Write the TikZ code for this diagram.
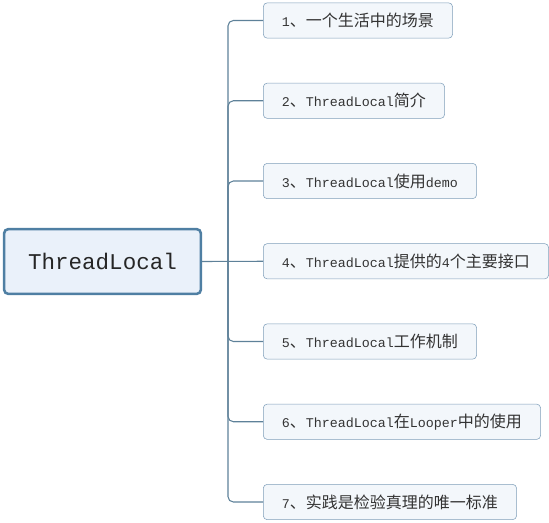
\documentclass[tikz,border=0pt]{standalone}
\usepackage{fontspec}
\setmainfont{Liberation Mono}
\newfontfamily\zhfont{Noto Sans CJK SC}
\newcommand\cn[1]{{\fontsize{12}{14}\zhfont #1}}
\usetikzlibrary{positioning}
\usetikzlibrary{calc}
\definecolor{edgeblue}{HTML}{5E8199}
\definecolor{rootline}{HTML}{4F7FA3}
\definecolor{rootfill}{HTML}{EAF1FA}
\definecolor{subline}{HTML}{7F9FBA}
\definecolor{subfill}{HTML}{F3F7FB}
\tikzset{
  topic/.style={draw=subline, fill=subfill, rounded corners=3pt, anchor=west,
    minimum height=26.5pt, inner xsep=14pt, text=black!80,
    font=\fontsize{10}{12}\selectfont},
  root/.style={draw=rootline, line width=1.9pt, fill=rootfill, rounded corners=3pt,
    minimum width=147.5pt, minimum height=48.5pt, text=black!85,
    font=\fontsize{16.9}{20}\selectfont},
  branch/.style={draw=edgeblue, line width=0.8pt, rounded corners=4pt}
}
\begin{document}
\begin{tikzpicture}[x=0.75pt,y=-0.75pt]
\useasboundingbox (0,0) rectangle (549,522);
\node[root] (tl) at (102.5,261.5) {ThreadLocal};
\coordinate (trunk) at (228,261.5);
\foreach \i/\t in {1/{1\cn{、一个生活中的场景}},
                   2/{2\cn{、}ThreadLocal\cn{简介}},
                   3/{3\cn{、}ThreadLocal\cn{使用}demo},
                   4/{4\cn{、}ThreadLocal\cn{提供的}4\cn{个主要接口}},
                   5/{5\cn{、}ThreadLocal\cn{工作机制}},
                   6/{6\cn{、}ThreadLocal\cn{在}Looper\cn{中的使用}},
                   7/{7\cn{、实践是检验真理的唯一标准}}}
\node[topic] (t\i) at (263,{20.5+80.25*(\i-1)}) {\t};
\foreach \i in {1,2,3,5,6,7}
\draw[branch] (trunk) |- (t\i.west);
\draw[branch] (tl.east) -- (t4.west);
\end{tikzpicture}
\end{document}
